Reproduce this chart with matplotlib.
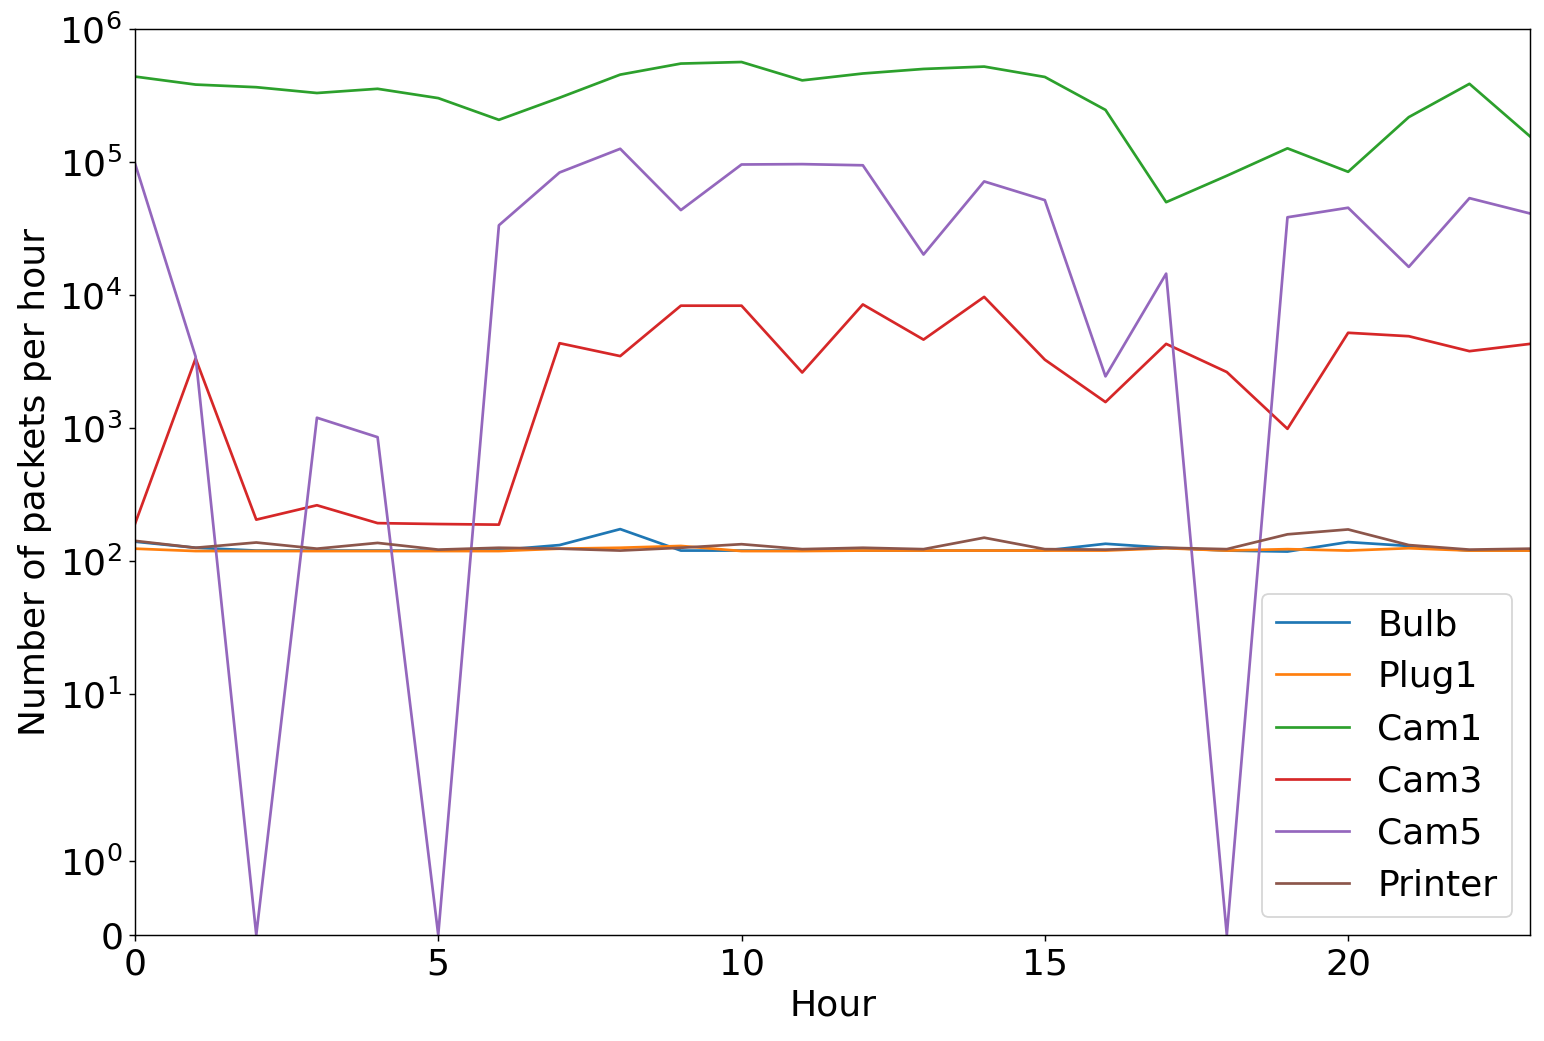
import matplotlib
matplotlib.use("Agg")
import matplotlib.pyplot as plt
from matplotlib.ticker import NullLocator

hours = list(range(24))

bulb = [140, 126, 120, 120, 120, 120, 121, 132, 174, 120, 120, 120,
        120, 120, 120, 120, 135, 126, 120, 118, 139, 130, 120, 120]
plug1 = [124, 119, 119, 119, 119, 119, 119, 124, 126, 130, 119, 119,
         120, 120, 120, 120, 120, 125, 120, 123, 120, 125, 120, 120]
cam1 = [440000, 383000, 366000, 331000, 356000, 303000, 208000, 305000,
        455000, 551000, 566000, 412000, 464000, 502000, 523000, 437000,
        247000, 50000, 79000, 127000, 84600, 218000, 388000, 156000]
cam3 = [190, 3340, 205, 263, 193, 190, 188, 4350, 3480, 8330, 8330, 2620,
        8510, 4630, 9700, 3270, 1570, 4300, 2640, 988, 5210, 4910, 3790, 4300]
cam5 = [98000, 3450, 0, 1197, 855, 0, 33500, 83600, 126000, 43600, 96000,
        96600, 94700, 20200, 71600, 51800, 2450, 14500, 0, 38500, 45400,
        16300, 53600, 41100]
printer = [142, 126, 138, 124, 137, 122, 126, 124, 120, 126, 134, 123,
           126, 123, 150, 123, 122, 126, 123, 159, 173, 132, 122, 124]

series = [("Bulb", bulb), ("Plug1", plug1), ("Cam1", cam1),
          ("Cam3", cam3), ("Cam5", cam5), ("Printer", printer)]

DPI = 130
plt.rcParams['font.size'] = 20
fig = plt.figure(figsize=(1544 / DPI, 1041 / DPI), dpi=DPI)
ax = fig.add_subplot(111)
fig.subplots_adjust(left=0.0874, right=0.991, top=0.972, bottom=0.102)

for name, vals in series:
    ax.plot(hours, vals, label=name)

ax.set_yscale('symlog')
ax.set_ylim(0, 1e6)
ax.set_xlim(0, 23)
ax.yaxis.set_minor_locator(NullLocator())
ax.set_xlabel("Hour")
ax.set_ylabel("Number of packets per hour")
ax.legend(loc="lower right")

fig.savefig("out.png", dpi=DPI)
